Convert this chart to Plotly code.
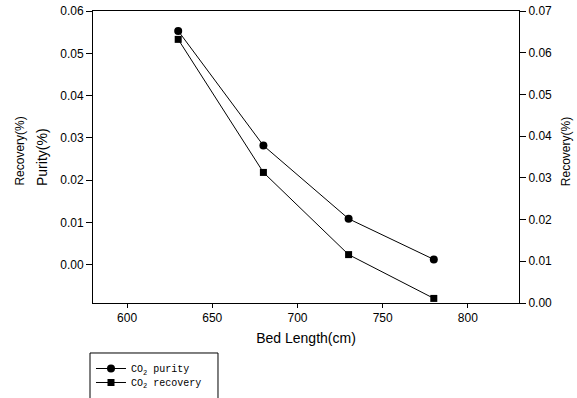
import plotly.graph_objects as go

bed_length = [630, 680, 730, 780]
purity = [0.0553, 0.0282, 0.0109, 0.0013]
recovery = [0.0632, 0.0313, 0.0116, 0.0011]

x_ticks = [600, 650, 700, 750, 800]
y1_ticks = [0.00, 0.01, 0.02, 0.03, 0.04, 0.05, 0.06]
y2_ticks = [0.00, 0.01, 0.02, 0.03, 0.04, 0.05, 0.06, 0.07]

fig = go.Figure()
fig.add_trace(go.Scatter(
    x=bed_length, y=purity, mode="lines+markers", name="CO<sub>2</sub> purity",
    line=dict(color="black", width=1),
    marker=dict(symbol="circle", size=8, color="black"),
    legend="legend",
))
fig.add_trace(go.Scatter(
    x=bed_length, y=recovery, mode="lines+markers", name="CO<sub>2</sub> recovery",
    yaxis="y2",
    line=dict(color="black", width=1),
    marker=dict(symbol="square", size=7, color="black"),
    legend="legend2",
))

axis_font = dict(family="Liberation Sans, Arial", size=12, color="black")
leg_font = dict(family="Liberation Mono, Courier New, monospace", size=10, color="black")

fig.update_layout(
    width=577, height=398,
    margin=dict(l=93, r=58, t=11, b=95, autoexpand=False),
    paper_bgcolor="white", plot_bgcolor="white",
    font=axis_font,
    showlegend=True,
    legend=dict(
        x=-0.0047, y=-0.1747, xanchor="left", yanchor="top",
        borderwidth=0, bgcolor="rgba(0,0,0,0)", font=leg_font, itemwidth=30,
    ),
    legend2=dict(
        x=-0.0047, y=-0.2226, xanchor="left", yanchor="top",
        borderwidth=0, bgcolor="rgba(0,0,0,0)", font=leg_font, itemwidth=30,
    ),
    xaxis=dict(
        range=[580, 830], tickvals=x_ticks, automargin=False,
        showline=True, linecolor="black", linewidth=1, mirror=True,
        ticks="outside", ticklen=4, tickcolor="black",
        showgrid=False, zeroline=False,
        title=dict(text="Bed Length(cm)", font=dict(size=14), standoff=8),
        tickfont=axis_font,
    ),
    yaxis=dict(
        range=[-0.009, 0.06], tickvals=y1_ticks, tickformat=".2f", automargin=False,
        showline=True, linecolor="black", linewidth=1,
        ticks="outside", ticklen=6, tickcolor="black",
        showgrid=False, zeroline=False,
        tickfont=axis_font,
    ),
    yaxis2=dict(
        range=[0, 0.07], tickvals=y2_ticks, tickformat=".2f", automargin=False,
        overlaying="y", side="right",
        showline=True, linecolor="black", linewidth=1,
        ticks="outside", ticklen=6, tickcolor="black",
        showgrid=False, zeroline=False,
        tickfont=axis_font,
    ),
    shapes=[
        dict(type="rect", xref="paper", yref="paper",
             x0=-0.00704, x1=0.2934, y0=-0.40, y1=-0.1712,
             line=dict(color="black", width=1), fillcolor="rgba(0,0,0,0)",
             layer="below"),
    ],
    annotations=[
        dict(text="Purity(%)", xref="paper", yref="paper", x=-0.1197, y=0.5,
             xanchor="center", yanchor="middle", textangle=-90, showarrow=False,
             font=dict(size=14)),
        dict(text="Recovery(%)", xref="paper", yref="paper", x=-0.171, y=0.519,
             xanchor="center", yanchor="middle", textangle=-90, showarrow=False,
             font=dict(size=12)),
        dict(text="Recovery(%)", xref="paper", yref="paper", x=1.112, y=0.519,
             xanchor="center", yanchor="middle", textangle=-90, showarrow=False,
             font=dict(size=12)),
    ],
)

fig.write_html("out.html", config={"displayModeBar": False},
               post_script="document.body.style.margin='0';")
